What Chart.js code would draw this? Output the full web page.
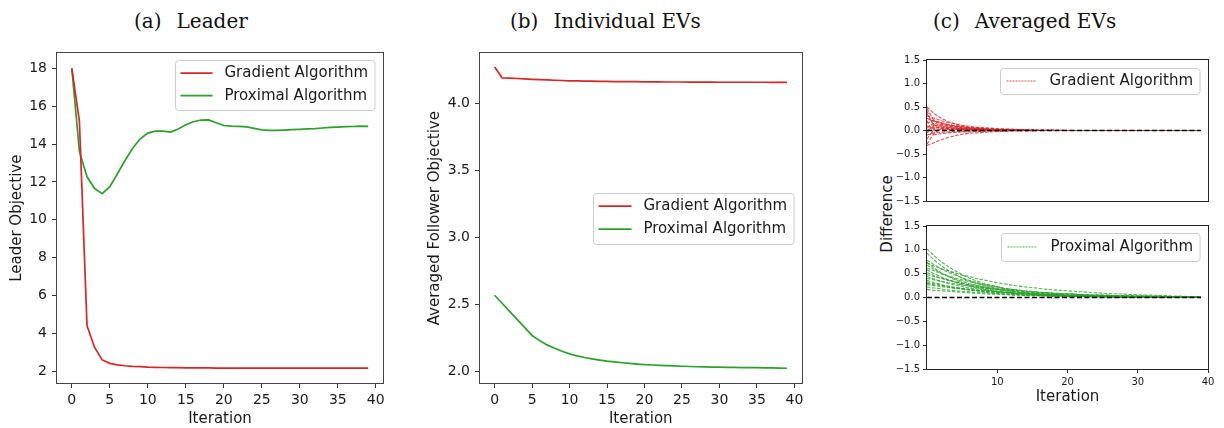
<!DOCTYPE html>
<html><head><meta charset="utf-8">
<script src="https://cdn.jsdelivr.net/npm/chart.js@4.4.1/dist/chart.umd.min.js"></script>
<style>
html,body{margin:0;padding:0;background:#fff;width:1224px;height:428px;overflow:hidden;}
canvas{position:absolute;}
.ttl{position:absolute;top:11px;font-family:"DejaVu Serif",serif;font-size:20px;line-height:20px;color:#111;white-space:nowrap;}
.ttl span{margin-left:15px;}
#diff{position:absolute;left:837px;top:205px;width:100px;height:18px;line-height:18px;text-align:center;font-family:"DejaVu Sans",sans-serif;font-size:15px;color:#1a1a1a;transform:rotate(-90deg);transform-origin:50% 50%;}
</style></head>
<body>
<div class="ttl" style="left:134px">(a)<span>Leader</span></div>
<div class="ttl" style="left:510px">(b)<span>Individual EVs</span></div>
<div class="ttl" style="left:933px">(c)<span>Averaged EVs</span></div>
<div id="diff">Difference</div>
<canvas id="ca" width="400" height="388" style="left:0px;top:40px"></canvas>
<canvas id="cb" width="400" height="388" style="left:410px;top:40px"></canvas>
<canvas id="cc1" width="364" height="170" style="left:860px;top:40px"></canvas>
<canvas id="cc2" width="364" height="213" style="left:860px;top:215px"></canvas>
<script>
// ---------------- data ----------------
const iterations = [0,1,2,3,4,5,6,7,8,9,10,11,12,13,14,15,16,17,18,19,20,21,22,23,24,25,26,27,28,29,30,31,32,33,34,35,36,37,38,39];

const leaderGradient = [18.0,15.2,4.4,3.26,2.6,2.42,2.34,2.29,2.26,2.24,2.22,2.21,2.2,2.19,2.19,2.18,2.18,2.18,2.18,2.17,2.17,2.17,2.17,2.17,2.17,2.17,2.17,2.17,2.17,2.17,2.17,2.17,2.17,2.17,2.17,2.17,2.17,2.17,2.17,2.17];
const leaderProximal = [18.0,13.6,12.27,11.65,11.38,11.75,12.43,13.13,13.78,14.28,14.58,14.68,14.68,14.63,14.8,15.02,15.18,15.27,15.28,15.13,14.98,14.95,14.94,14.91,14.83,14.75,14.72,14.72,14.74,14.76,14.78,14.8,14.82,14.85,14.88,14.9,14.92,14.93,14.95,14.94];

const followerGradient = [4.27,4.19,4.188,4.185,4.182,4.179,4.176,4.174,4.172,4.17,4.168,4.167,4.166,4.165,4.164,4.163,4.162,4.162,4.161,4.161,4.16,4.16,4.16,4.159,4.159,4.159,4.158,4.158,4.158,4.158,4.157,4.157,4.157,4.157,4.157,4.157,4.157,4.156,4.156,4.156];
const followerProximal = [2.57,2.51,2.45,2.39,2.33,2.27,2.232,2.2,2.175,2.153,2.133,2.118,2.106,2.096,2.087,2.079,2.073,2.067,2.062,2.057,2.053,2.05,2.047,2.045,2.043,2.041,2.039,2.037,2.036,2.035,2.034,2.033,2.032,2.031,2.03,2.03,2.029,2.028,2.027,2.026];

const zeroLine = [0,0,0,0,0,0,0,0,0,0,0,0,0,0,0,0,0,0,0,0,0,0,0,0,0,0,0,0,0,0,0,0,0,0,0,0,0,0,0,0];

// per-EV differences, gradient algorithm
const gradientEVs = [
 [.50,.36,.26,.19,.14,.10,.07,.05,.04,.03, .02,.02,.01,.01,.01,.01,0,0,0,0, 0,0,0,0,0,0,0,0,0,0, 0,0,0,0,0,0,0,0,0,0],
 [.47,.20,.16,.12,.09,.07,.05,.04,.03,.02, .02,.01,.01,.01,0,0,0,0,0,0, 0,0,0,0,0,0,0,0,0,0, 0,0,0,0,0,0,0,0,0,0],
 [.36,.09,.13,.10,.08,.06,.05,.04,.03,.02, .02,.01,.01,.01,.01,0,0,0,0,0, 0,0,0,0,0,0,0,0,0,0, 0,0,0,0,0,0,0,0,0,0],
 [.26,.19,.15,.12,.10,.08,.07,.06,.05,.04, .03,.03,.02,.02,.02,.01,.01,.01,.01,0, 0,0,0,0,0,0,0,0,0,0, 0,0,0,0,0,0,0,0,0,0],
 [.16,.22,.17,.13,.10,.08,.06,.05,.04,.03, .02,.02,.01,.01,.01,0,0,0,0,0, 0,0,0,0,0,0,0,0,0,0, 0,0,0,0,0,0,0,0,0,0],
 [.10,.04,.08,.06,.05,.04,.03,.02,.02,.01, .01,.01,0,0,0,0,0,0,0,0, 0,0,0,0,0,0,0,0,0,0, 0,0,0,0,0,0,0,0,0,0],
 [.05,.16,.11,.09,.07,.05,.04,.03,.02,.02, .01,.01,.01,0,0,0,0,0,0,0, 0,0,0,0,0,0,0,0,0,0, 0,0,0,0,0,0,0,0,0,0],
 [0,.08,.07,.05,.04,.03,.03,.02,.02,.01, .01,.01,0,0,0,0,0,0,0,0, 0,0,0,0,0,0,0,0,0,0, 0,0,0,0,0,0,0,0,0,0],
 [-.05,.12,.09,.07,.05,.04,.03,.03,.02,.02, .01,.01,.01,0,0,0,0,0,0,0, 0,0,0,0,0,0,0,0,0,0, 0,0,0,0,0,0,0,0,0,0],
 [-.10,-.05,-.04,-.03,-.02,-.02,-.01,-.01,-.01,0, 0,0,0,0,0,0,0,0,0,0, 0,0,0,0,0,0,0,0,0,0, 0,0,0,0,0,0,0,0,0,0],
 [-.18,.03,.02,.02,.01,.01,0,0,0,0, 0,0,0,0,0,0,0,0,0,0, 0,0,0,0,0,0,0,0,0,0, 0,0,0,0,0,0,0,0,0,0],
 [-.32,-.26,-.20,-.15,-.11,-.08,-.06,-.05,-.04,-.03, -.02,-.02,-.01,-.01,-.01,-.01,0,0,0,0, 0,0,0,0,0,0,0,0,0,0, 0,0,0,0,0,0,0,0,0,0],
 [-.29,-.06,.04,.03,.02,.02,.01,.01,0,0, 0,0,0,0,0,0,0,0,0,0, 0,0,0,0,0,0,0,0,0,0, 0,0,0,0,0,0,0,0,0,0],
 [.21,-.09,-.07,-.05,-.04,-.03,-.03,-.02,-.02,-.01, -.01,-.01,0,0,0,0,0,0,0,0, 0,0,0,0,0,0,0,0,0,0, 0,0,0,0,0,0,0,0,0,0],
 [.42,.06,.05,.04,.03,.02,.02,.01,.01,.01, 0,0,0,0,0,0,0,0,0,0, 0,0,0,0,0,0,0,0,0,0, 0,0,0,0,0,0,0,0,0,0],
 [.31,.26,.21,.17,.14,.11,.09,.07,.06,.05, .04,.03,.03,.02,.02,.02,.01,.01,.01,.01, 0,0,0,0,0,0,0,0,0,0, 0,0,0,0,0,0,0,0,0,0]
];

// per-EV differences, proximal algorithm
const proximalEVs = [
 [1.02,.88,.75,.65,.56,.48,.41,.35,.30,.26, .23,.19,.17,.14,.12,.11,.09,.08,.07,.06, .05,.04,.04,.03,.03,.02,.02,.02,.01,.01, .01,.01,.01,.01,.01,0,0,0,0,0],
 [.93,.79,.67,.57,.49,.41,.35,.30,.25,.22, .18,.16,.13,.11,.10,.08,.07,.06,.05,.04, .04,.03,.03,.02,.02,.02,.01,.01,.01,.01, .01,.01,0,0,0,0,0,0,0,0],
 [.78,.69,.60,.53,.47,.41,.36,.32,.28,.25, .22,.19,.17,.15,.13,.11,.10,.09,.08,.07, .06,.05,.05,.04,.04,.03,.03,.02,.02,.02, .02,.01,.01,.01,.01,.01,.01,.01,0,0],
 [.72,.66,.61,.56,.52,.47,.44,.40,.37,.34, .31,.29,.26,.24,.22,.21,.19,.17,.16,.15, .14,.13,.12,.11,.10,.09,.08,.08,.07,.06, .06,.05,.05,.04,.04,.03,.03,.02,.02,.01],
 [.68,.59,.51,.45,.39,.34,.29,.26,.22,.19, .17,.15,.13,.11,.10,.08,.07,.06,.05,.05, .04,.04,.03,.03,.02,.02,.02,.01,.01,.01, .01,.01,.01,.01,0,0,0,0,0,0],
 [.62,.56,.50,.45,.41,.37,.33,.30,.27,.24, .22,.19,.17,.16,.14,.13,.11,.10,.09,.08, .08,.07,.06,.05,.05,.04,.04,.04,.03,.03, .03,.02,.02,.02,.02,.01,.01,.01,.01,.01],
 [.52,.46,.41,.37,.33,.29,.26,.23,.20,.18, .16,.14,.13,.11,.10,.09,.08,.07,.06,.06, .05,.04,.04,.04,.03,.03,.03,.02,.02,.02, .02,.01,.01,.01,.01,.01,.01,.01,0,0],
 [.48,.44,.40,.36,.33,.30,.27,.25,.23,.21, .19,.17,.15,.14,.13,.12,.11,.10,.09,.08, .07,.07,.06,.05,.05,.05,.04,.04,.03,.03, .03,.03,.02,.02,.02,.02,.02,.01,.01,.01],
 [.44,.39,.34,.30,.26,.23,.20,.18,.16,.14, .12,.11,.10,.08,.07,.06,.06,.05,.04,.04, .03,.03,.03,.02,.02,.02,.02,.01,.01,.01, .01,.01,.01,.01,.01,0,0,0,0,0],
 [.40,.37,.34,.31,.29,.26,.24,.22,.21,.19, .17,.16,.15,.14,.12,.11,.11,.10,.09,.08, .08,.07,.06,.06,.05,.05,.05,.04,.04,.04, .03,.03,.03,.03,.02,.02,.02,.02,.02,.02],
 [.36,.31,.27,.24,.21,.18,.16,.14,.12,.10, .09,.08,.07,.06,.05,.05,.04,.03,.03,.03, .02,.02,.02,.02,.01,.01,.01,.01,.01,.01, .01,.01,0,0,0,0,0,0,0,0],
 [.32,.29,.26,.23,.21,.19,.17,.15,.14,.12, .11,.10,.09,.08,.07,.07,.06,.05,.05,.04, .04,.04,.03,.03,.03,.02,.02,.02,.02,.02, .01,.01,.01,.01,.01,.01,.01,.01,.01,0],
 [.27,.25,.23,.21,.19,.18,.16,.15,.14,.13, .12,.11,.10,.09,.08,.08,.07,.07,.06,.06, .05,.05,.04,.04,.04,.03,.03,.03,.03,.02, .02,.02,.02,.02,.02,.01,.01,.01,.01,.01],
 [.22,.20,.18,.16,.14,.13,.12,.11,.10,.09, .08,.07,.06,.06,.05,.05,.04,.04,.03,.03, .03,.02,.02,.02,.02,.02,.01,.01,.01,.01, .01,.01,.01,.01,.01,.01,0,0,0,0],
 [.17,.15,.14,.13,.12,.11,.10,.09,.08,.07, .07,.06,.05,.05,.04,.04,.04,.03,.03,.03, .03,.02,.02,.02,.02,.02,.02,.01,.01,.01, .01,.01,.01,.01,.01,.01,.01,.01,0,0],
 [.58,.50,.43,.37,.32,.27,.24,.20,.17,.15, .13,.11,.10,.08,.07,.06,.05,.05,.04,.03, .03,.03,.02,.02,.02,.02,.01,.01,.01,.01, .01,.01,0,0,0,0,0,0,0,0],
 [.74,.62,.52,.44,.37,.31,.26,.22,.19,.16, .13,.11,.10,.08,.07,.06,.05,.04,.03,.03, .03,.02,.02,.02,.01,.01,.01,.01,.01,.01, .01,0,0,0,0,0,0,0,0,0],
 [.30,.27,.25,.22,.20,.18,.17,.15,.14,.12, .11,.10,.09,.08,.08,.07,.06,.06,.05,.05, .04,.04,.04,.03,.03,.03,.03,.02,.02,.02, .02,.02,.02,.01,.01,.01,.01,.01,.01,.01]
];

const xTicksAB = [0,5,10,15,20,25,30,35,40];
const xLabelsAB = ['0','5','10','15','20','25','30','35','40'];
const yTicksA = [2,4,6,8,10,12,14,16,18];
const yLabelsA = ['2','4','6','8','10','12','14','16','18'];
const yTicksB = [2.0,2.5,3.0,3.5,4.0];
const yLabelsB = ['2.0','2.5','3.0','3.5','4.0'];
const yTicksC = [-1.5,-1.0,-0.5,0.0,0.5,1.0,1.5];
const yLabelsC = ['\u22121.5','\u22121.0','\u22120.5','0.0','0.5','1.0','1.5'];
const xTicksC = [10,20,30,40];
const xLabelsC = ['10','20','30','40'];
const seriesNames = ['Gradient Algorithm','Proximal Algorithm'];

// ---------------- drawing ----------------
const RED = '#d62728', GREEN = '#2ca02c';
const RED_A = 'rgba(214,39,40,0.8)', GREEN_A = 'rgba(44,160,44,0.8)';
const FONT = "'DejaVu Sans', sans-serif";
const TXT = '#1a1a1a';
Chart.defaults.font.family = FONT;
Chart.defaults.color = TXT;

const pts = arr => arr.map((v, i) => ({x: iterations[i], y: v}));

function makeFrame(color) {
  return {id: 'frame', afterDatasetsDraw(chart) {
    const {ctx, chartArea: a} = chart;
    ctx.save();
    ctx.strokeStyle = color; ctx.lineWidth = 1;
    const l = Math.round(a.left) - 0.5, t = Math.round(a.top) - 0.5;
    const r = Math.round(a.right) + 0.5, b = Math.round(a.bottom) + 0.5;
    ctx.strokeRect(l, t, r - l, b - t);
    ctx.restore();
  }};
}

function makeLegend(cfg) {
  return {id: 'mlLegend', afterDraw(chart) {
    const ctx = chart.ctx, ca = chart.chartArea;
    ctx.save();
    ctx.font = cfg.fontSize + 'px ' + FONT;
    const tw = Math.max(...cfg.items.map(it => ctx.measureText(it.text).width));
    const w = cfg.padL + cfg.sample + cfg.gap + tw + cfg.padR;
    const h = cfg.h;
    const x = Math.round(ca.right - cfg.right - w) + 0.5;
    const y = Math.round(cfg.vcenter ? (ca.top + ca.bottom) / 2 - h / 2 : ca.top + cfg.top) + 0.5;
    ctx.beginPath();
    if (ctx.roundRect) ctx.roundRect(x, y, w, h, 3); else ctx.rect(x, y, w, h);
    ctx.fillStyle = 'rgba(255,255,255,0.8)'; ctx.fill();
    ctx.strokeStyle = '#cccccc'; ctx.lineWidth = 1; ctx.stroke();
    cfg.items.forEach((it, i) => {
      const ry = y + cfg.row0 + i * cfg.rowH;
      ctx.save();
      ctx.strokeStyle = it.color; ctx.lineWidth = it.width; ctx.setLineDash(it.dash || []);
      ctx.beginPath(); ctx.moveTo(x + cfg.padL, ry); ctx.lineTo(x + cfg.padL + cfg.sample, ry); ctx.stroke();
      ctx.restore();
      ctx.fillStyle = TXT; ctx.textBaseline = 'middle'; ctx.textAlign = 'left';
      ctx.fillText(it.text, x + cfg.padL + cfg.sample + cfg.gap, ry);
    });
    ctx.restore();
  }};
}

function xAxis(min, max, ticks, labels, height, fontSize, tickLen, pad, title, titlePadBottom, display = true) {
  return {
    type: 'linear', min, max, display,
    afterBuildTicks: s => { s.ticks = ticks.map(v => ({value: v})); },
    afterFit: s => { s.height = height; },
    border: {display: false},
    grid: {drawOnChartArea: false, drawTicks: true, tickLength: tickLen, tickColor: '#333', lineWidth: 1},
    ticks: {font: {size: fontSize}, padding: pad, color: TXT, autoSkip: false, maxRotation: 0,
            callback: (v, i) => labels[i]},
    title: title ? {display: true, text: title, color: TXT, font: {size: 15}, padding: {top: 0, bottom: titlePadBottom}} : {display: false}
  };
}
function yAxis(min, max, ticks, labels, width, fontSize, tickLen, pad, title, titlePadTop) {
  return {
    type: 'linear', min, max,
    afterBuildTicks: s => { s.ticks = ticks.map(v => ({value: v})); },
    afterFit: s => { s.width = width; },
    border: {display: false},
    grid: {drawOnChartArea: false, drawTicks: true, tickLength: tickLen, tickColor: '#333', lineWidth: 1},
    ticks: {font: {size: fontSize}, padding: pad, color: TXT, autoSkip: false,
            callback: (v, i) => labels[i]},
    title: title ? {display: true, text: title, color: TXT, font: {size: 15}, padding: {top: titlePadTop, bottom: 0}} : {display: false}
  };
}
const base = {responsive: false, devicePixelRatio: 1, animation: false, events: [],
  plugins: {legend: {display: false}, tooltip: {enabled: false}}};
const solid = (data, color) => ({data: pts(data), borderColor: color, borderWidth: 1.7, pointRadius: 0, tension: 0, fill: false});
const dashed = (data, color) => ({data: pts(data), borderColor: color, borderWidth: 1.1, borderDash: [3.5, 1.5], pointRadius: 0, tension: 0, fill: false});
const zeroDs = () => ({data: pts(zeroLine), borderColor: '#000', borderWidth: 1.3, borderDash: [5, 2.5], pointRadius: 0, tension: 0, fill: false});

// (a) Leader
new Chart(document.getElementById('ca'), {
  type: 'line',
  data: {datasets: [solid(leaderGradient, RED), solid(leaderProximal, GREEN)]},
  options: Object.assign({}, base, {
    layout: {padding: {top: 12, right: 17, left: 0, bottom: 0}},
    scales: {
      x: xAxis(-1.95, 40.95, xTicksAB, xLabelsAB, 45, 14, 5, 4, 'Iteration', 0),
      y: yAxis(1.38, 18.79, yTicksA, yLabelsA, 57, 14, 5, 5, 'Leader Objective', 8)
    }
  }),
  plugins: [makeFrame('#444'), makeLegend({fontSize: 15, right: 8, top: 7, h: 50, row0: 12.7, rowH: 22.5,
    padL: 5, sample: 32, gap: 12, padR: 7,
    items: [{text: seriesNames[0], color: RED, width: 1.7}, {text: seriesNames[1], color: GREEN, width: 1.7}]})]
});

// (b) Individual EVs
new Chart(document.getElementById('cb'), {
  type: 'line',
  data: {datasets: [solid(followerGradient, RED), solid(followerProximal, GREEN)]},
  options: Object.assign({}, base, {
    layout: {padding: {top: 12, right: 8.5, left: 0, bottom: 0}},
    scales: {
      x: xAxis(-1.95, 40.95, xTicksAB, xLabelsAB, 45, 14, 5, 4, 'Iteration', 0),
      y: yAxis(1.916, 4.372, yTicksB, yLabelsB, 70, 14, 5, 5, 'Averaged Follower Objective', 16)
    }
  }),
  plugins: [makeFrame('#444'), makeLegend({fontSize: 15, right: 7.5, vcenter: true, h: 51, row0: 12.7, rowH: 23,
    padL: 5, sample: 33, gap: 12, padR: 7,
    items: [{text: seriesNames[0], color: RED, width: 1.7}, {text: seriesNames[1], color: GREEN, width: 1.7}]})]
});

// (c) top: gradient
new Chart(document.getElementById('cc1'), {
  type: 'line',
  data: {datasets: [zeroDs()].concat(gradientEVs.map(s => dashed(s, RED_A)))},
  options: Object.assign({}, base, {
    layout: {padding: {top: 20, right: 16, left: 0, bottom: 7}},
    scales: {
      x: xAxis(0, 40, xTicksC, xLabelsC, 0, 10, 4, 3, null, 0, false),
      y: yAxis(-1.5, 1.5, yTicksC, yLabelsC, 67, 10, 4, 3, null, 0)
    }
  }),
  plugins: [makeFrame('#222'), makeLegend({fontSize: 15, right: 8, top: 8, h: 26, row0: 12.5, rowH: 0,
    padL: 6, sample: 30, gap: 13, padR: 7,
    items: [{text: seriesNames[0], color: RED_A, width: 1, dash: [2, 1]}]})]
});

// (c) bottom: proximal
new Chart(document.getElementById('cc2'), {
  type: 'line',
  data: {datasets: [zeroDs()].concat(proximalEVs.map(s => dashed(s, GREEN_A)))},
  options: Object.assign({}, base, {
    layout: {padding: {top: 11, right: 16, left: 0, bottom: 0}},
    scales: {
      x: xAxis(0, 40, xTicksC, xLabelsC, 59, 10, 4, 3, 'Iteration', 22),
      y: yAxis(-1.5, 1.5, yTicksC, yLabelsC, 67, 10, 4, 3, null, 0)
    }
  }),
  plugins: [makeFrame('#222'), makeLegend({fontSize: 15, right: 8, top: 7, h: 28, row0: 13.5, rowH: 0,
    padL: 6, sample: 30, gap: 13, padR: 7,
    items: [{text: seriesNames[1], color: GREEN_A, width: 1, dash: [2, 1]}]})]
});
</script>
</body></html>
